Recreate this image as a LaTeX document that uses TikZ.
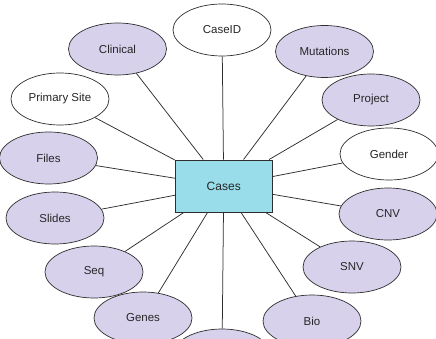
\documentclass[tikz,border=0pt]{standalone}
\usepackage{fontspec}
\setmainfont{Liberation Sans}
\usetikzlibrary{shapes.geometric}
\definecolor{lav}{HTML}{D7D1EC}
\definecolor{caseblue}{HTML}{99DCEA}
\definecolor{edgegray}{HTML}{2E2E2E}
\tikzset{
  attr/.style={ellipse, draw=edgegray, line width=0.7pt, minimum width=98pt,
    minimum height=52pt, inner sep=0pt, font=\fontsize{11.5}{13}\selectfont,
    text=black!85},
  attrfill/.style={attr, fill=lav},
  attrwhite/.style={attr, fill=white},
  entity/.style={rectangle, draw=edgegray, line width=0.9pt, fill=caseblue,
    minimum width=97pt, minimum height=52pt, inner sep=0pt,
    font=\fontsize{12}{14}\selectfont, text=black!85},
  link/.style={draw=edgegray, line width=0.75pt}
}
\begin{document}
\begin{tikzpicture}[x=1pt, y=-1pt]
  \useasboundingbox (0,0) rectangle (436,339);
  \clip (0,0) rectangle (436,339);

  % central entity
  \node[entity] (cases) at (223.75,186) {Cases};

  % attributes around it
  \node[attrwhite] (caseid)    at (222,30)    {CaseID};
  \node[attrfill]  (clinical)  at (117.5,49)  {Clinical};
  \node[attrfill]  (mutations) at (324.5,51.5){Mutations};
  \node[attrfill]  (project)   at (371,100)   {Project};
  \node[attrwhite] (gender)    at (389,154)   {Gender};
  \node[attrwhite] (primary)   at (60,99)     {Primary Site};
  \node[attrfill]  (files)     at (48.5,158)  {Files};
  \node[attrfill]  (slides)    at (55,218)    {Slides};
  \node[attrfill]  (seq)       at (94,272)    {Seq};
  \node[attrfill]  (genes)     at (143,318)   {Genes};
  \node[attrfill]  (bottom)    at (222,355)   {};
  \node[attrfill]  (bio)       at (312,321)   {Bio};
  \node[attrfill]  (snv)       at (352,267)   {SNV};
  \node[attrfill]  (cnv)       at (388,214)   {CNV};

  % connectors from each attribute to the entity
  \foreach \n in {caseid,clinical,mutations,project,gender,primary,files,
                  slides,seq,genes,bottom,bio,snv,cnv}
    \draw[link] (\n) -- (cases);
\end{tikzpicture}
\end{document}
